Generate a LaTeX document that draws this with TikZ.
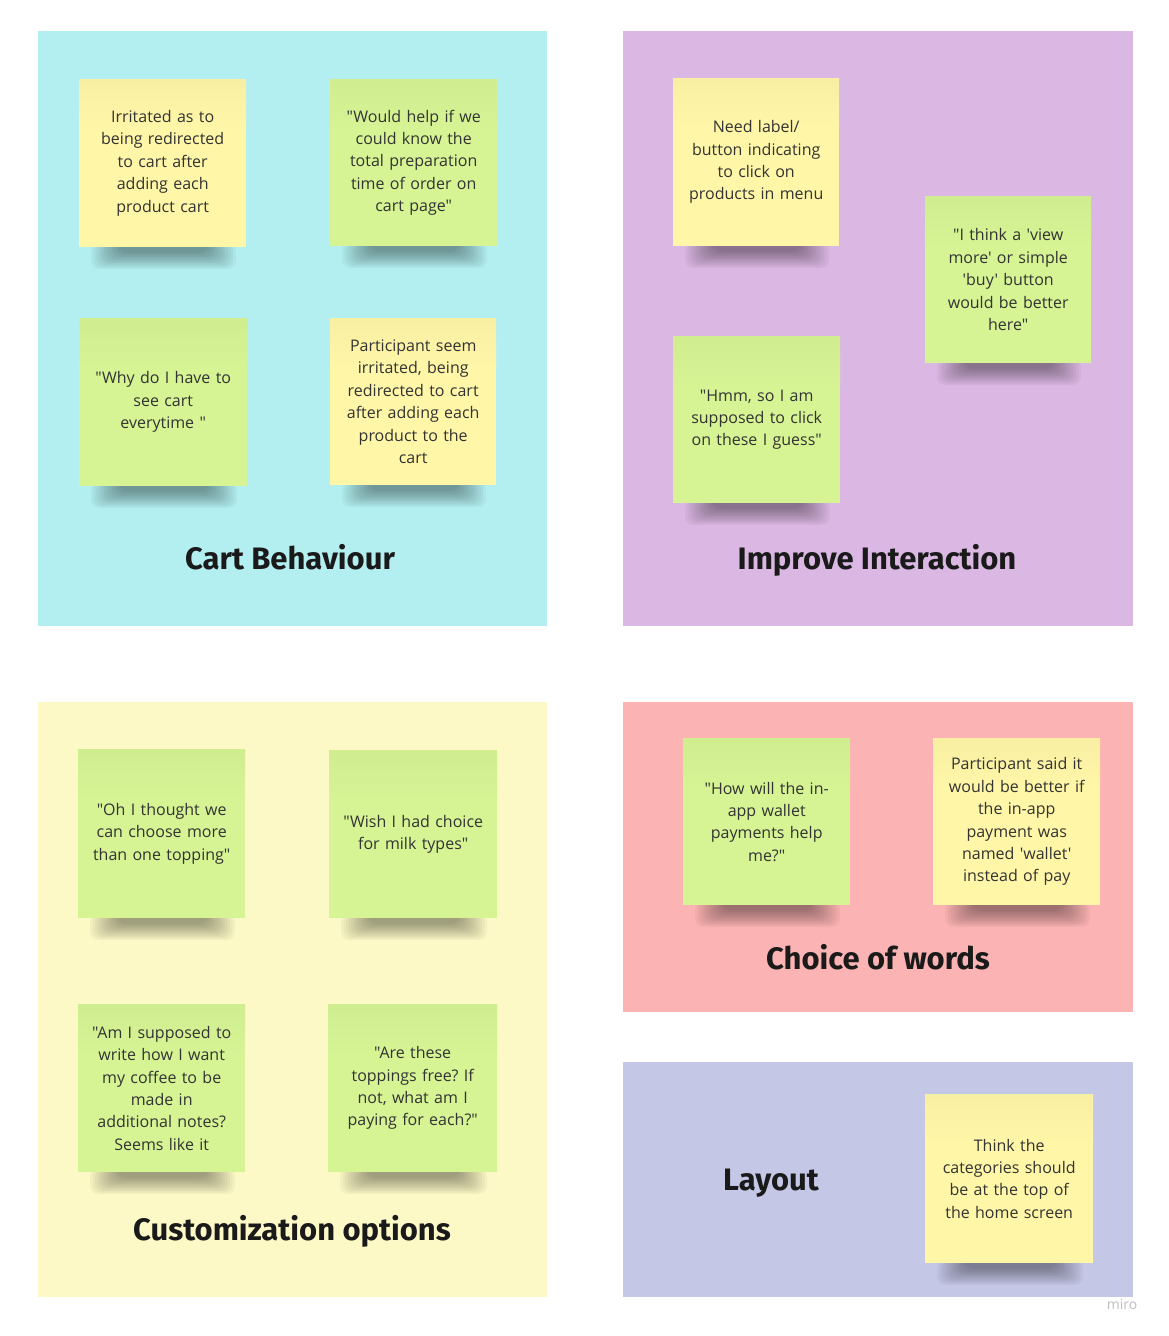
\documentclass[tikz,border=0pt]{standalone}
\usepackage{fontspec}
\setmainfont{Open Sans}[Ligatures=TeXOff]
\newfontfamily\titlefont{Fira Sans}
\frenchspacing
\definecolor{pcyan}{HTML}{B3EFF0}
\definecolor{ppurple}{HTML}{DBB7E3}
\definecolor{pyellow}{HTML}{FCF9C6}
\definecolor{ppink}{HTML}{FBB3B3}
\definecolor{plav}{HTML}{C5C7E7}
\definecolor{syellow}{HTML}{FFF6A8}
\definecolor{sgreen}{HTML}{D6F494}
\definecolor{stext}{HTML}{333333}
\definecolor{ttext}{HTML}{1A1A1A}
\tikzset{
  panelbox/.style={draw=none, anchor=north west, inner sep=0pt},
  stickybox/.style={draw=none, anchor=north west, inner sep=0pt, align=center,
    text=stext, font=\fontsize{16}{22.4}\selectfont},
  titletext/.style={anchor=base, text=ttext, font=\titlefont\bfseries\fontsize{31}{33}\selectfont},
}
\newcommand\panel[6]{% name x y w h color
  \node[panelbox, fill=#6, minimum width=#4pt, minimum height=#5pt] (#1) at (#2,#3) {};}
\newcommand\sticky[7]{% name x y w h color text
  \foreach \k in {0,...,11}{
    \fill[black, opacity=.035, rounded corners=8pt]
      ({#2+12+2.6*\k},{#3+#5-4}) rectangle ({#2+#4-10-2.6*\k},{#3+#5+22-1.5*\k});
  }
  \fill[#6] (#2,#3) rectangle ({#2+#4},{#3+#5});
  \shade[top color=#6!97!black, bottom color=#6] (#2,#3) rectangle ({#2+#4},{#3+50});
  \node[stickybox, minimum width=#4pt, minimum height=#5pt,
    text width={(#4-16)*1pt}] (#1) at (#2,#3) {#7};}
\begin{document}
\begin{tikzpicture}[x=1pt,y=-1pt]
\useasboundingbox[fill=white] (0,0) rectangle (1168,1336);
% panels
\panel{cart}{38}{31}{509}{595}{pcyan}
\panel{improve}{623}{31}{510}{595}{ppurple}
\panel{custom}{38}{702}{509}{595}{pyellow}
\panel{choice}{623}{702}{510}{310}{ppink}
\panel{layout}{623}{1062}{510}{235}{plav}
% Cart Behaviour
\sticky{s1}{79}{79}{167}{168}{syellow}{Irritated as to\\being redirected\\to cart after\\adding each\\product cart}
\sticky{s2}{330}{79}{167}{167}{sgreen}{"Would help if we\\could know the\\total preparation\\time of order on\\cart page"}
\sticky{s3}{79}{318}{168}{168}{sgreen}{"Why do I have to\\see cart\\everytime "}
\sticky{s4}{330}{318}{166}{167}{syellow}{Participant seem\\irritated, being\\redirected to cart\\after adding each\\product to the\\cart}
\node[titletext] (cartt) at (290,569) {Cart Behaviour};
% Improve Interaction
\sticky{i1}{673}{78}{166}{168}{syellow}{Need label/\\button indicating\\to click on\\products in menu}
\sticky{i2}{925}{196}{166}{167}{sgreen}{"I think a 'view\\more' or simple\\'buy' button\\would be better\\here"}
\sticky{i3}{673}{336}{167}{167}{sgreen}{"Hmm, so I am\\supposed to click\\on these I guess"}
\node[titletext] (improvet) at (877,569) {Improve Interaction};
% Customization options
\sticky{c1}{78}{749}{167}{169}{sgreen}{"Oh I thought we\\can choose more\\than one topping"}
\sticky{c2}{329}{750}{168}{168}{sgreen}{"Wish I had choice\\for milk types"}
\sticky{c3}{78}{1004}{167}{168}{sgreen}{"Am I supposed to\\write how I want\\my coffee to be\\made in\\additional notes?\\Seems like it}
\sticky{c4}{328}{1004}{169}{168}{sgreen}{"Are these\\toppings free? If\\not, what am I\\paying for each?"}
\node[titletext] (customt) at (292,1240) {Customization options};
% Choice of words
\sticky{w1}{683}{738}{167}{167}{sgreen}{"How will the in-\\app wallet\\payments help\\me?"}
\sticky{w2}{933}{738}{167}{167}{syellow}{Participant said it\\would be better if\\the in-app\\payment was\\named 'wallet'\\instead of pay}
\node[titletext] (choicet) at (878,969) {Choice of words};
% Layout
\node[titletext] (layoutt) at (771,1190) {Layout};
\sticky{l1}{925}{1094}{168}{169}{syellow}{Think the\\categories should\\be at the top of\\the home screen}
% watermark
\node[text=black!25, font=\fontsize{14}{14}\selectfont] (miro) at (1122,1304) {miro};
\end{tikzpicture}
\end{document}
